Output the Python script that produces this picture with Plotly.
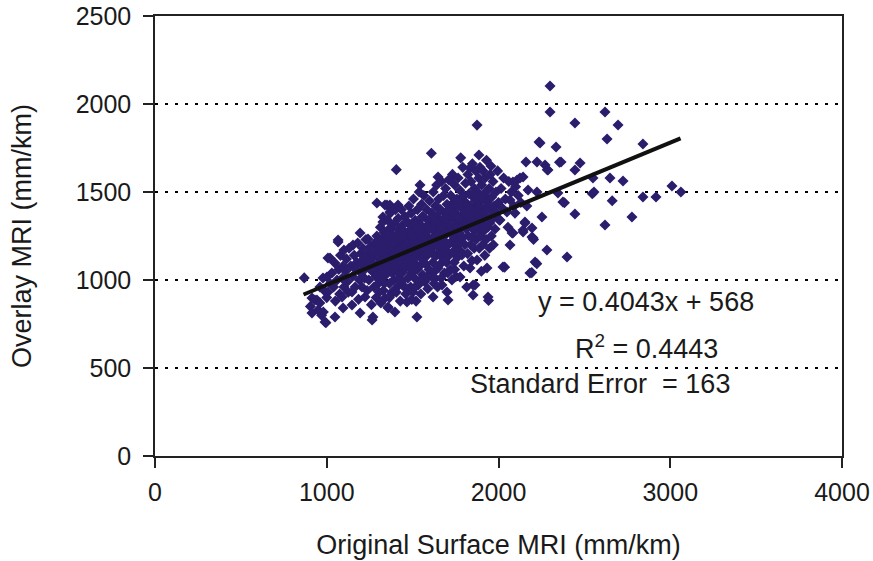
import plotly.graph_objects as go

# (Original Surface MRI, Overlay MRI) pairs, grouped by x band
band_0900 = [(869,1012),(905,850),(914,898),(914,812),(931,886),(943,886),(950,830),(960,870),
             (970,800),(978,1011),(980,818),(990,761),(995,757),(1000,900),(1001,1017),(985,940),(960,960)]
band_1000 = [(1007,1125),(1019,1125),(1048,1096),(1007,932),(1020,980),(1030,1040),(1040,960),(1048,790),
             (1050,880),(1060,1000),(1066,1216),(1066,1227),(1070,1060),(1075,920),(1080,1140),(1089,903),
             (1090,1010),(1095,841),(1095,1080),(1100,960),(1100,1170)]
band_1100 = [(1110,1050),(1115,1120),(1120,990),(1125,930),(1130,1180),(1140,1080),(1147,858),(1147,932),
             (1150,1020),(1153,1199),(1160,1140),(1165,960),(1170,1060),(1175,1100),(1180,1210),(1185,890),
             (1190,1000),(1194,812),(1194,1267),(1198,1150),(1200,1040),(1200,1090)]
band_1200 = [(1205,960),(1210,1180),(1215,1120),(1220,1010),(1223,903),(1228,1230),(1230,1070),(1235,940),
             (1240,1233),(1240,1150),(1245,1000),(1250,1100),(1255,1190),(1260,860),(1264,773),(1269,790),
             (1265,1050),(1270,1140),(1275,960),(1280,1210),(1285,1020),(1288,900),(1292,1250),(1292,1438),
             (1295,1090),(1300,1170),(1300,980)]
band_1300 = [(1305,1060),(1310,1120),(1312,1300),(1315,870),(1318,1000),(1320,1230),(1325,1150),(1327,1358),
             (1327,1330),(1330,940),(1332,1080),(1335,1270),(1339,898),(1339,1426),(1340,1190),(1345,1030),
             (1350,1120),(1351,1426),(1355,1340),(1357,841),(1357,847),(1360,1060),(1362,1220),(1365,980),
             (1368,1160),(1368,1426),(1368,1386),(1370,1380),(1372,1100),(1375,1290),(1378,920),(1380,932),
             (1380,1040),(1383,1250),(1385,1180),(1388,1130),(1390,1000),(1392,1320),(1395,1080),(1397,818),
             (1398,1210),(1400,1150),(1400,1400)]
band_1400 = [(1405,1627),(1405,1050),(1408,1260),(1410,960),(1412,1120),(1415,1426),(1416,1350),(1418,1190),
             (1420,1010),(1422,1290),(1425,1080),(1428,880),(1430,1230),(1432,1160),(1435,1400),(1438,1040),
             (1440,1310),(1442,970),(1445,1120),(1448,1200),(1450,1270),(1452,1060),(1455,1360),(1458,1150),
             (1460,920),(1462,1240),(1465,1100),(1467,875),(1470,1330),(1472,1010),(1475,1190),(1478,1420),
             (1480,1280),(1482,1070),(1485,1140),(1488,960),(1490,1230),(1492,1380),(1495,1040),(1498,1310),
             (1500,1170),(1502,932)]
band_1500 = [(1505,1460),(1508,1100),(1510,1250),(1512,1010),(1515,1340),(1518,1190),(1520,880),(1522,1290),
             (1525,790),(1526,1060),(1528,1400),(1530,1140),(1532,970),(1535,1220),(1538,1500),(1540,1320),
             (1542,1080),(1543,1540),(1545,1180),(1548,920),(1550,1270),(1552,1430),(1555,1120),(1558,1030),
             (1560,1360),(1562,1210),(1565,1480),(1568,1160),(1570,990),(1572,1000),(1575,1300),(1578,1090),
             (1580,1250),(1582,1400),(1585,1140),(1588,950),(1590,1340),(1592,1200),(1595,1060),(1598,1450),
             (1600,1290)]
band_1600 = [(1605,1170),(1609,1720),(1610,1020),(1612,1380),(1615,1240),(1618,1100),(1619,903),(1620,1500),
             (1622,1320),(1625,1200),(1628,1050),(1630,1011),(1632,1420),(1635,1280),(1638,1140),(1640,1540),
             (1642,1360),(1645,960),(1648,1068),(1648,1585),(1650,1230),(1652,1460),(1655,1180),(1658,1310),
             (1660,1090),(1662,1400),(1665,1250),(1668,1560),(1670,1130),(1671,972),(1672,1340),(1675,1210),
             (1677,1159),(1680,1480),(1682,1290),(1685,1040),(1688,1380),(1690,1170),(1692,1520),(1695,1260),
             (1698,1100),(1700,932),(1700,1430)]
band_1700 = [(1703,1320),(1706,886),(1708,1200),(1710,1570),(1712,1140),(1715,1400),(1718,1270),(1718,1568),
             (1720,1060),(1722,1480),(1725,1350),(1728,1220),(1729,1000),(1732,1600),(1735,1160),(1738,1440),
             (1740,1300),(1742,1100),(1745,1540),(1748,1240),(1750,1380),(1752,1020),(1755,1190),(1758,1460),
             (1760,1330),(1762,1130),(1765,1580),(1768,1270),(1770,1420),(1772,1210),(1775,1510),(1776,1017),
             (1778,1360),(1780,1694),(1782,1160),(1785,1300),(1787,1142),(1788,1470),(1790,1240),(1792,1640),
             (1795,1400),(1798,1080),(1800,1340)]
band_1800 = [(1805,1200),(1808,1550),(1810,1440),(1812,1290),(1815,960),(1818,1380),(1820,1150),(1822,1600),
             (1825,1250),(1828,1490),(1830,1330),(1834,1068),(1834,1636),(1835,1420),(1838,1200),(1840,1560),
             (1842,1300),(1845,1110),(1846,1244),(1848,1660),(1850,1370),(1852,915),(1852,972),(1855,1470),
             (1858,1180),(1860,1520),(1862,1280),(1863,972),(1865,1400),(1868,1620),(1870,1230),(1872,1340),
             (1875,1114),(1875,1880),(1878,1500),(1880,1430),(1882,1290),(1885,1580),(1886,1710),(1888,1180),
             (1890,1360),(1892,1640),(1895,1250),(1898,1460),(1900,1050)]
band_1900 = [(1902,1540),(1905,1320),(1908,1200),(1910,1620),(1912,1400),(1915,1280),(1918,1480),(1920,1140),
             (1922,1580),(1925,1360),(1928,1230),(1930,1680),(1933,1068),(1935,1440),(1938,1300),(1939,903),
             (1942,884),(1945,1520),(1948,1180),(1950,1324),(1952,1600),(1955,1400),(1956,1648),(1958,1250),
             (1960,1470),(1965,1350),(1968,1560),(1970,1200),(1975,1420),(1980,1290),(1985,1500),(1990,1380),
             (1995,1620),(2000,1440)]
band_2000 = [(2005,1340),(2009,1341),(2015,1520),(2020,1410),(2026,1074),(2030,1580),(2036,1073),(2040,1460),
             (2049,1386),(2055,1300),(2060,1560),(2067,1455),(2067,1199),(2075,1500),(2079,1267),(2084,1267),
             (2084,1557),(2090,1420),(2096,1380),(2100,1530),(2108,1568),(2115,1480),(2125,1580),(2130,1440),
             (2143,1585),(2143,1273),(2143,1284),(2154,1324),(2154,1330),(2160,1670),(2165,1420),(2172,1511),
             (2183,1040),(2194,1042),(2195,1295),(2195,1244),(2201,1239),(2204,1230)]
band_2200 = [(2213,1102),(2223,1093),(2224,1670),(2224,1500),(2236,1784),(2242,1778),(2253,1358),(2271,1653),
             (2282,1170),(2284,1627),(2288,1625),(2300,2102),(2300,1955),(2335,1756),(2346,1494),(2355,1669),
             (2364,1670),(2375,1443),(2384,1439),(2399,1131),(2445,1892),(2445,1625),(2445,1375),(2475,1665),
             (2546,1490),(2550,1580),(2556,1500),(2620,1955),(2620,1312),(2632,1801),(2649,1580),(2662,1450),
             (2696,1881),(2725,1563),(2777,1358),(2841,1773),(2841,1472),(2917,1472),(3010,1534),(3062,1500)]
core_fill = [(1255,1060),(1262,1120),(1278,1080),(1283,1160),(1298,1030),(1303,1200),(1318,1110),(1322,1050),
             (1338,1140),(1343,1250),(1358,1100),(1363,1290),(1376,1060),(1386,1210),(1394,1150),(1403,1100),
             (1413,1230),(1427,1170),(1436,1290),(1443,1070),(1457,1200),(1463,1330),(1476,1120),(1487,1260),
             (1493,1180),(1506,1220),(1516,1130),(1527,1300),(1536,1170),(1546,1250),(1556,1360),(1566,1230),
             (1576,1180),(1586,1310),(1596,1220),(1606,1350),(1616,1290),(1626,1140),(1636,1330),(1646,1260),
             (1656,1400),(1666,1300),(1676,1250),(1686,1350),(1696,1210),(1706,1390),(1716,1310),(1726,1260),
             (1736,1370),(1746,1420),(1756,1300),(1766,1350),(1776,1440),(1786,1250),(1796,1480),(1806,1380),
             (1816,1320),(1826,1420),(1836,1360),(1846,1480),(1856,1300),(1866,1450),(1876,1380),(1886,1420),
             (1896,1340),(1906,1460),(1916,1380),(1926,1500),(1936,1420),(1946,1350),
             (1305,930),(1335,980),(1365,900),(1405,930),(1435,990),(1465,950),(1495,890),(1515,960),
             (1545,1000),(1585,1020),(1625,980),(1665,1010),(1705,1040),(1745,1060)]

bands = [band_0900, band_1000, band_1100, band_1200, band_1300, band_1400, band_1500,
         band_1600, band_1700, band_1800, band_1900, band_2000, band_2200, core_fill]

# Trend line from the equation printed on the chart
slope = 0.4043
intercept = 568
trend_x = [865, 3060]

x_ticks = [0, 1000, 2000, 3000, 4000]
y_ticks = [0, 500, 1000, 1500, 2000, 2500]

xs = [p[0] for b in bands for p in b]
ys = [p[1] for b in bands for p in b]

FONT = "Arial, 'Liberation Sans', sans-serif"
TXT = "#1a1a1a"

fig = go.Figure()
fig.add_trace(go.Scatter(
    x=xs, y=ys, mode="markers",
    marker=dict(symbol="diamond", size=8.5, color="#2c1d6c", line=dict(width=0)),
    showlegend=False, hoverinfo="skip"))
fig.add_trace(go.Scatter(
    x=trend_x, y=[slope * v + intercept for v in trend_x], mode="lines",
    line=dict(color="#111111", width=4), showlegend=False, hoverinfo="skip"))

axis_common = dict(showline=True, linecolor="#222222", linewidth=1.5, mirror=True,
                   ticks="outside", ticklen=10, tickcolor="#222222", tickwidth=1.5,
                   tickfont=dict(family=FONT, size=25, color=TXT),
                   zeroline=False, automargin=False)

fig.update_xaxes(range=[0, 4000], tickvals=x_ticks, showgrid=False, ticklabelstandoff=3,
                 title=dict(text="Original Surface MRI (mm/km)", standoff=30,
                            font=dict(family=FONT, size=27, color=TXT)),
                 **axis_common)
fig.update_yaxes(range=[0, 2500], tickvals=y_ticks, showgrid=True, ticklabelstandoff=7,
                 gridcolor="black", gridwidth=1.5, griddash="3px,7px",
                 title=dict(text="Overlay MRI (mm/km)", standoff=36,
                            font=dict(family=FONT, size=27, color=TXT)),
                 **axis_common)

L, R, T, B = 155, 31, 16, 105
W, H = 873, 561
pw, ph = W - L - R, H - T - B

ann_font = dict(family=FONT, size=27, color=TXT)
ann_texts = ["y = 0.4043x + 568", "R<sup>2</sup> = 0.4443", "Standard Error  = 163"]
ann_px = [(646, 302), (646, 347), (600, 384)]
for text, (px, py) in zip(ann_texts, ann_px):
    fig.add_annotation(x=(px - L) / pw, y=1 - (py - T) / ph, xref="paper", yref="paper",
                       xanchor="center", yanchor="middle", text=text,
                       showarrow=False, font=ann_font)

fig.update_layout(width=W, height=H, margin=dict(l=L, r=R, t=T, b=B),
                  plot_bgcolor="white", paper_bgcolor="white",
                  font=dict(family=FONT))
fig.write_html("out.html")
